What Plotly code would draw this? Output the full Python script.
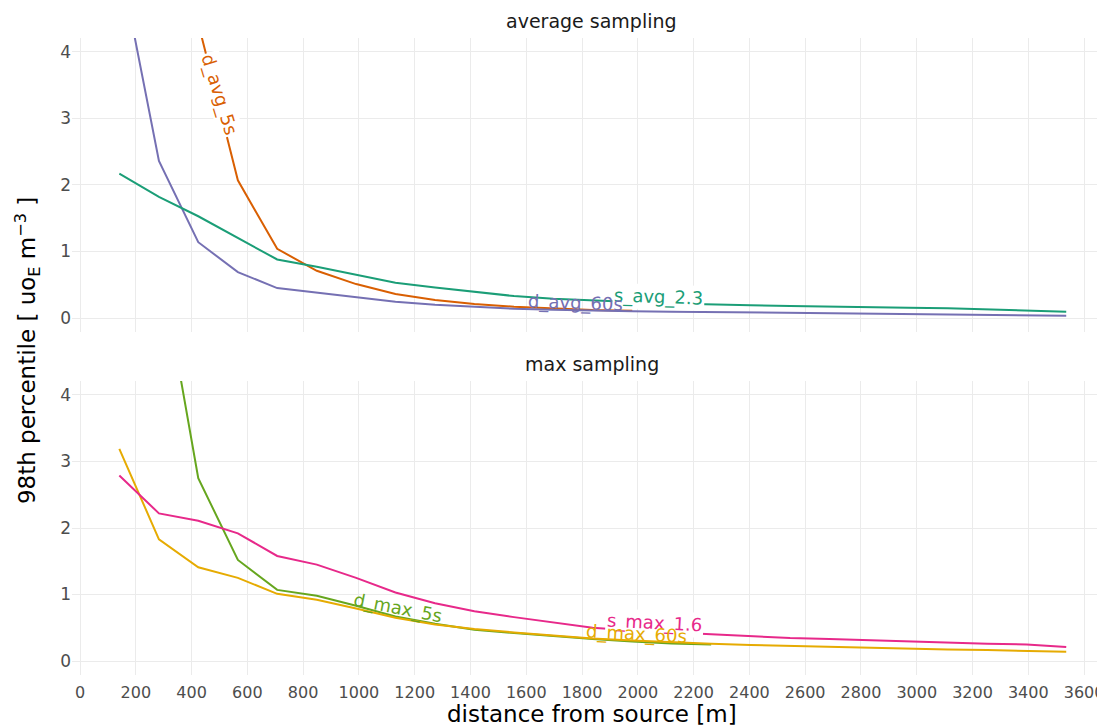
import plotly.graph_objects as go

# ---------------- data ----------------
distance = [141, 283, 424, 566, 707, 849, 990, 1131, 1273, 1414, 1556, 1697, 1838,
            1980, 2121, 2263, 2404, 2546, 2687, 2828, 2970, 3111, 3253, 3394, 3536]

# average sampling panel
d_avg_5s = [16.5, 8.2, 4.43, 2.07, 1.04, 0.71, 0.51, 0.36, 0.27, 0.21, 0.17, 0.14, 0.12, 0.11]
d_avg_60s = [5.4, 2.36, 1.14, 0.69, 0.45, 0.38, 0.31, 0.245, 0.2, 0.17, 0.14, 0.125, 0.11,
             0.1, 0.095, 0.09, 0.085, 0.08, 0.075, 0.07, 0.065, 0.06, 0.05, 0.045, 0.035]
s_avg_2_3 = [2.17, 1.82, 1.53, 1.21, 0.88, 0.77, 0.65, 0.53, 0.46, 0.40, 0.33, 0.29, 0.26,
             0.24, 0.22, 0.20, 0.19, 0.18, 0.175, 0.165, 0.155, 0.145, 0.13, 0.115, 0.095]

# max sampling panel
d_max_5s = [12.0, 6.1, 2.75, 1.52, 1.07, 0.98, 0.83, 0.67, 0.56, 0.47, 0.42, 0.37, 0.33,
            0.295, 0.265, 0.25]
d_max_60s = [3.19, 1.83, 1.41, 1.25, 1.01, 0.92, 0.79, 0.65, 0.55, 0.48, 0.43, 0.38, 0.34,
             0.31, 0.28, 0.26, 0.24, 0.225, 0.21, 0.2, 0.19, 0.175, 0.165, 0.155, 0.14]
s_max_1_6 = [2.79, 2.22, 2.11, 1.92, 1.58, 1.45, 1.25, 1.03, 0.87, 0.75, 0.66, 0.58, 0.50,
             0.46, 0.43, 0.40, 0.37, 0.345, 0.33, 0.31, 0.29, 0.275, 0.26, 0.25, 0.21]

panel_titles = ["average sampling", "max sampling"]
x_ticks = list(range(0, 3601, 200))
y_ticks = [0, 1, 2, 3, 4]

# series: (name, values, panel, colour)
series = [
    ("d_avg_5s", d_avg_5s, 1, "#D95F02"),
    ("d_avg_60s", d_avg_60s, 1, "#7570B3"),
    ("s_avg_2.3", s_avg_2_3, 1, "#1B9E77"),
    ("d_max_5s", d_max_5s, 2, "#66A61E"),
    ("d_max_60s", d_max_60s, 2, "#E6AB02"),
    ("s_max_1.6", s_max_1_6, 2, "#E7298A"),
]

# label placement along the lines: (x, y, angle, white background)
label_pos = {
    "d_avg_5s": (501, 3.36, 73, True),
    "d_avg_60s": (1778, 0.225, 2, False),
    "s_avg_2.3": (2075, 0.32, 2, True),
    "d_max_5s": (1138, 0.79, 11, False),
    "s_max_1.6": (2061, 0.57, 3, True),
    "d_max_60s": (1995, 0.41, 3, False),
}

FONT = "DejaVu Sans"
GRID = "#EBEBEB"

fig = go.Figure()
for name, vals, panel, col in series:
    fig.add_trace(go.Scatter(
        x=distance[:len(vals)], y=vals, mode="lines", name=name,
        line=dict(color=col, width=2),
        xaxis="x" if panel == 1 else "x2",
        yaxis="y" if panel == 1 else "y2",
        showlegend=False, hoverinfo="x+y+name",
    ))

annotations = []
# drawing order: boxed labels first, so overlapping labels stay visible
order = ["d_avg_5s", "s_avg_2.3", "d_avg_60s", "d_max_5s", "s_max_1.6", "d_max_60s"]
colours = {n: c for n, _, _, c in series}
panels = {n: p for n, _, p, _ in series}
for name in order:
    x, y, ang, bg = label_pos[name]
    p = panels[name]
    annotations.append(dict(
        x=x, y=y, xref="x" if p == 1 else "x2", yref="y" if p == 1 else "y2",
        text=name, showarrow=False, textangle=ang,
        font=dict(family=FONT, size=18, color=colours[name]),
        bgcolor="white" if bg else "rgba(0,0,0,0)", borderpad=1,
        xanchor="center", yanchor="middle",
    ))

# strip titles
annotations.append(dict(x=0.503, y=1.0, xref="paper", yref="paper", yshift=4,
                        text=panel_titles[0], showarrow=False, yanchor="bottom",
                        font=dict(family=FONT, size=19, color="#1A1A1A")))
annotations.append(dict(x=0.503, y=0.4615, xref="paper", yref="paper", yshift=4,
                        text=panel_titles[1], showarrow=False, yanchor="bottom",
                        font=dict(family=FONT, size=19, color="#1A1A1A")))
# axis titles
annotations.append(dict(x=-0.0436, y=0.51, xref="paper", yref="paper",
                        text="98th percentile [ uo<sub>E</sub> m<sup>−3</sup> ]",
                        showarrow=False, textangle=-90, xanchor="center", yanchor="middle",
                        font=dict(family=FONT, size=23, color="#000000")))
annotations.append(dict(x=0.503, y=-0.062, xref="paper", yref="paper",
                        text="distance from source [m]", showarrow=False,
                        xanchor="center", yanchor="middle",
                        font=dict(family=FONT, size=23, color="#000000")))

xcommon = dict(range=[-28.7, 3675], tickvals=x_ticks, showgrid=True, gridcolor=GRID,
               gridwidth=1, zeroline=False, showline=False, ticks="", automargin=False,
               ticklabeloverflow="allow", ticklabelstandoff=6,
               tickfont=dict(family=FONT, size=16, color="#4D4D4D"))
ycommon = dict(range=[-0.21, 4.21], tickvals=y_ticks, showgrid=True, gridcolor=GRID,
               gridwidth=1, zeroline=False, showline=False, ticks="", automargin=False,
               tickfont=dict(family=FONT, size=17, color="#4D4D4D"))

# the page body adds an 8 px offset, so the figure is 8 px smaller than the window
fig.update_layout(
    width=1097, height=719,
    margin=dict(l=64, r=0, t=30, b=52),
    paper_bgcolor="white", plot_bgcolor="white",
    xaxis=dict(**xcommon, anchor="y", showticklabels=False),
    yaxis=dict(**ycommon, anchor="x", domain=[0.5385, 1.0]),
    xaxis2=dict(**xcommon, anchor="y2", showticklabels=True),
    yaxis2=dict(**ycommon, anchor="x2", domain=[0.0, 0.4615]),
    annotations=annotations,
    font=dict(family=FONT),
)

fig.write_html("out.html")
